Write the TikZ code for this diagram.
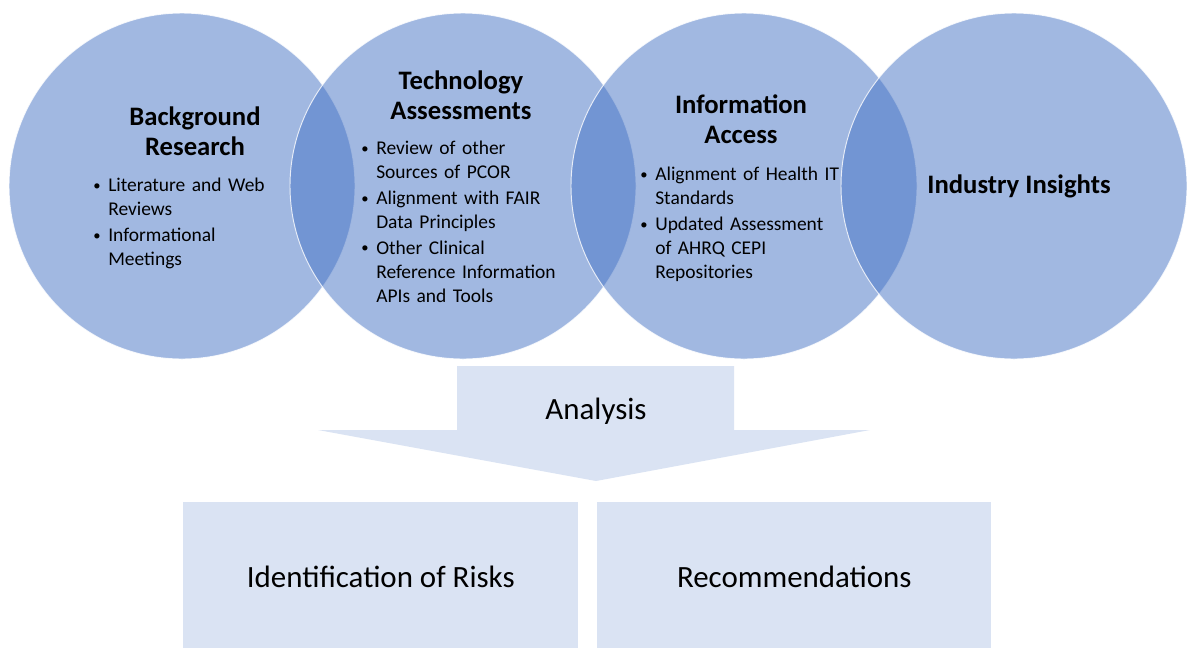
\documentclass[tikz,border=0pt]{standalone}
\usepackage{fontspec}
\setmainfont{Carlito}
\definecolor{bubblebase}{HTML}{4472C4}
\definecolor{paleblue}{HTML}{DAE3F3}
% one bulleted entry: the bullet hangs into the left margin of the list
\newcommand\bulletentry[1]{\par\noindent
  \llap{\makebox[11.25pt][l]{\raisebox{0.15ex}{\fontsize{11}{11}\selectfont •}}}#1\par}
\tikzset{
  bubble/.style={circle, draw=white, draw opacity=0.8, line width=0.7pt,
    fill=bubblebase, fill opacity=0.5, minimum size=259.5pt, inner sep=0pt},
  heading/.style={font=\fontsize{20}{22.5}\selectfont\bfseries, align=center, text=black, inner sep=0pt},
  bulletlist/.style={anchor=north west, inner sep=0pt, text width=#1, align=left,
    font=\fontsize{14.6}{18}\selectfont\setlength{\parskip}{1.2pt}},
  stagebox/.style={anchor=north west, fill=paleblue, inner sep=0pt,
    minimum width=296.25pt, minimum height=112.5pt, font=\fontsize{23.2}{26}\selectfont},
  arrowfill/.style={fill=paleblue},
  bigtext/.style={font=\fontsize{23.2}{26}\selectfont, inner sep=0pt}
}
\begin{document}
\begin{tikzpicture}[x=0.75pt,y=-0.75pt]
\useasboundingbox (0,0) rectangle (1187,647);

% four overlapping circles
\node[bubble] (c1) at (182,186) {};
\node[bubble] (c2) at (463,186) {};
\node[bubble] (c3) at (744,186) {};
\node[bubble] (c4) at (1014,186) {};

% circle headings
\node[heading] (t1) at (195,131) {Background\\Research};
\node[heading] (t2) at (461,95) {Technology\\Assessments};
\node[heading] (t3) at (741,119) {Information\\Access};
\node[heading] (t4) at (1019,186) {Industry Insights};

% bullet lists (the node edge is the text edge; bullets hang left of it)
\node[bulletlist=160pt] (b1) at (108,166) {%
  \bulletentry{Literature and Web\newline Reviews}
  \bulletentry{Informational\newline Meetings}};
\node[bulletlist=170pt] (b2) at (376,129) {%
  \bulletentry{Review of other\newline Sources of PCOR}
  \bulletentry{Alignment with FAIR\newline Data Principles}
  \bulletentry{Other Clinical\newline Reference Information\newline APIs and Tools}};
\node[bulletlist=170pt] (b3) at (655,155) {%
  \bulletentry{Alignment of Health IT\newline Standards}
  \bulletentry{Updated Assessment\newline of AHRQ CEPI\newline Repositories}};

% downward block arrow
\fill[arrowfill] (457,366) -- (734,366) -- (734,430) -- (870,430)
  -- (596,481) -- (318,430) -- (457,430) -- cycle;
\node[bigtext] (analysis) at (596,411) {Analysis};

% result boxes
\node[stagebox] (risks) at (183,502) {Identification of Risks};
\node[stagebox, minimum width=295.5pt] (recs) at (597,502) {Recommendations};
\end{tikzpicture}
\end{document}
